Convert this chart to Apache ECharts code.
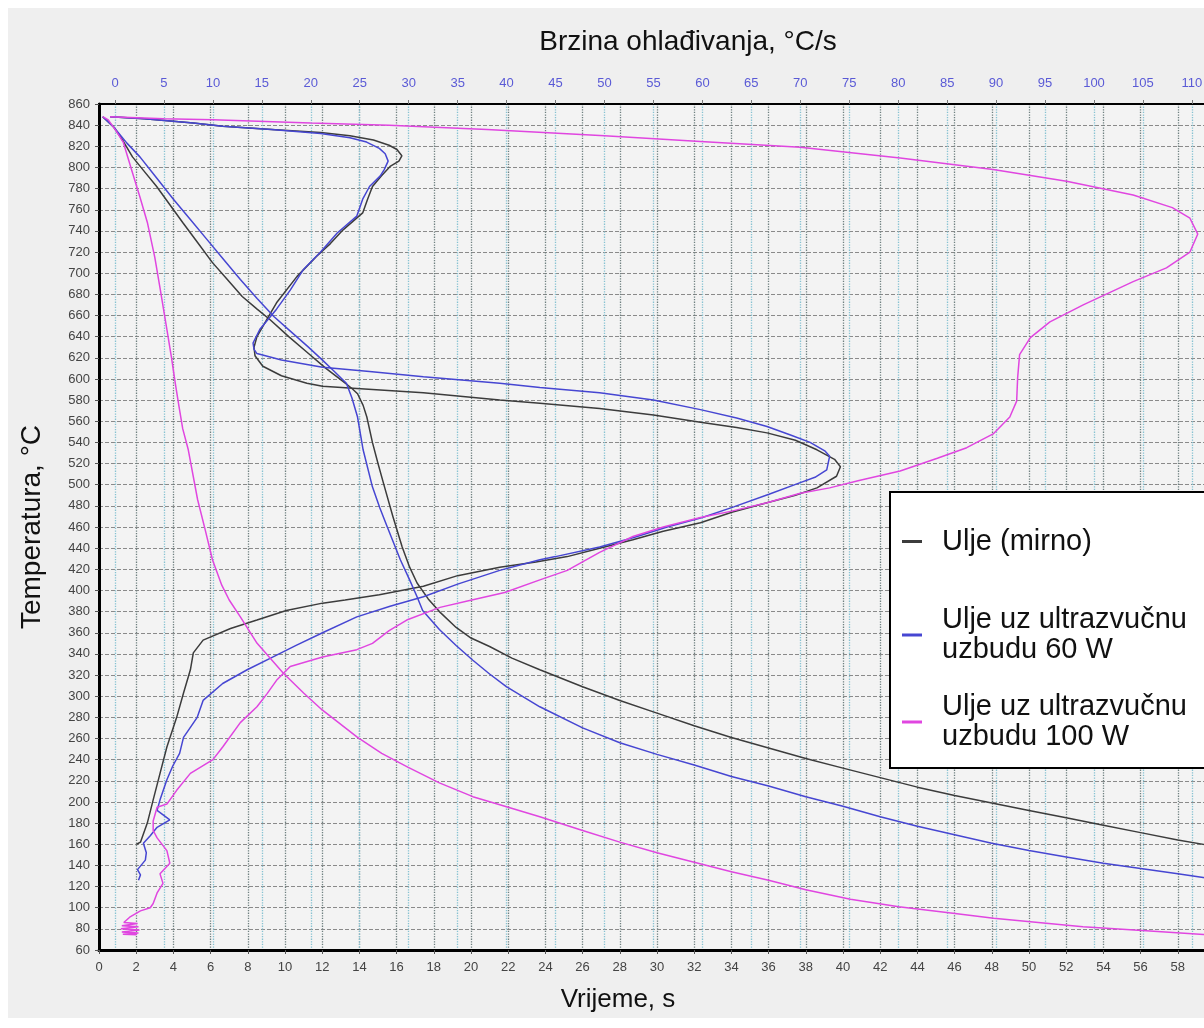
<!DOCTYPE html>
<html>
<head>
<meta charset="utf-8">
<script src="https://cdn.jsdelivr.net/npm/echarts@6/dist/echarts.min.js"></script>
<style>
  html, body { margin: 0; padding: 0; background: #ffffff; overflow: hidden; width: 1204px; height: 1028px; }
  #chart { position: absolute; left: 8px; top: 8px; width: 1230px; height: 1010px; background: #efefef; }
</style>
</head>
<body>
<div id="chart"></div>
<script>
  // nazivi krivulja (legenda)
  const names = ['Ulje (mirno)', 'Ulje uz ultrazvučnu\nuzbudu 60 W', 'Ulje uz ultrazvučnu\nuzbudu 100 W'];

  // krivulje hlađenja: [vrijeme s, temperatura °C]
  const hladenjeMirno = [[0.2,848],[0.8,838],[1.3,825],[1.8,810],[2.4,797],[3.1,782],[3.8,765],[4.5,748],[5.3,729],[6.1,710],[6.9,694],[7.7,678],[8.5,666],[9.2,656],[10.2,640],[11.2,625],[12.2,610],[13.1,598],[13.6,591],[13.9,586],[14.2,575],[14.4,564],[14.7,540],[15.0,520],[15.3,501],[15.8,470],[16.3,441],[16.7,422],[17.1,407],[17.7,392],[18.3,380],[19.2,365],[20.0,355],[21.0,347],[22.2,336],[23.7,325],[26,309],[28,296],[30,284],[32,272],[34,261],[36,251],[38,241],[40,232],[42,223],[44,214],[46,206],[48,199],[50,192],[52,185],[54,178],[56,171],[58,164],[60,158]];
  const hladenje60 = [[0.2,848],[0.8,838],[1.5,823],[2.2,810],[3.1,790],[4.0,770],[4.9,751],[5.8,732],[6.7,713],[7.6,694],[8.5,676],[9.4,659],[10.3,645],[11.2,631],[12.0,618],[12.6,608],[13.3,596],[13.6,582],[13.9,564],[14.2,533],[14.7,498],[15.1,478],[15.5,460],[16.2,429],[16.7,410],[17.1,394],[17.4,381],[18.3,363],[19.2,348],[20.1,334],[21.0,321],[21.9,309],[23.7,290],[26,270],[28,256],[30,245],[32,235],[34,224],[36,215],[38,205],[40,196],[42,186],[44,177],[46,169],[48,161],[50,154],[52,148],[54,142],[56,137],[58,132],[60,127]];
  const hladenje100 = [[0.2,848],[0.5,845],[0.9,835],[1.3,824],[1.8,795],[2.2,772],[2.6,748],[3.0,715],[3.3,684],[3.6,652],[3.9,620],[4.1,596],[4.3,574],[4.5,553],[4.8,533],[5.3,486],[5.7,458],[6.1,429],[6.6,405],[7.0,391],[7.6,375],[8.5,350],[9.9,322],[11.0,303],[12.0,287],[13.9,261],[15.2,246],[16.6,233],[18.3,218],[20.1,205],[22,195],[23.7,186],[26,173],[28,162],[30,152],[32,143],[34,134],[36,126],[38,117],[40.4,108],[43,101],[45.8,95],[48.1,90],[50.5,86],[52.9,82],[56.5,78],[60,74]];

  // brzine hlađenja: [brzina °C/s, temperatura °C]
  const brzinaMirno = [[-0.5,848],[3,846],[8,842],[11,839],[16,836],[21,833],[24,830],[26.4,826],[28,821],[28.8,817],[29.3,811],[29,806],[28.1,801],[27.2,792],[26.3,782],[25.8,770],[25.3,757],[24.3,749],[23.3,741],[22,728],[20.6,716],[18.6,697],[16.5,672],[15.5,656],[14.5,640],[14.2,630],[14.3,622],[15.1,612],[17,603],[19.6,596],[21.2,593],[24.7,591],[31.5,587],[39.3,580],[43.4,577],[49.5,572],[55,566],[59.8,559],[63.5,554],[66.6,549],[69.5,542],[71.7,533],[73.5,524],[74.1,517],[73.7,508],[71.7,497],[69.5,490],[66.6,483],[63,474],[59.8,464],[56,456],[52.9,448],[49.5,440],[46.2,432],[43,427],[39.3,422],[35,414],[31.5,404],[27,396],[23.5,391],[21.2,388],[17.5,381],[14.5,372],[11.8,364],[9.0,353],[8.0,341],[7.7,325],[7.0,303],[6.3,280],[5.3,252],[4.6,227],[3.9,202],[3.3,180],[2.6,162],[2.2,160]];
  const brzina60 = [[-0.5,848],[3,846],[8,842],[11,839],[16,836],[21,832],[24,828],[25.7,824],[27,818],[27.6,813],[27.9,806],[27.5,798],[27.1,792],[26,782],[25.3,770],[24.7,754],[23.7,746],[22.7,738],[21,720],[19.2,703],[17.9,684],[16.5,666],[14.8,647],[14.1,634],[14.2,628],[14.5,624],[17,618],[21.2,611],[26,607],[31.5,602],[39.3,596],[43.4,592],[49.5,587],[55,580],[59.8,571],[63.5,563],[66.6,555],[69,547],[71,540],[72.5,532],[73,527],[72.7,514],[71.5,507],[70,502],[66.8,491],[63.2,479],[60,469],[56.4,460],[53,450],[49.5,441],[45,432],[43.4,429],[39.3,419],[35,406],[31.5,394],[28.1,385],[24.7,375],[21.2,360],[18.5,348],[16.1,337],[13.5,325],[11,312],[9,296],[8.4,280],[7,261],[6.6,246],[5.9,234],[5.3,221],[4.6,202],[4.3,192],[5.6,183],[4.3,176],[3.6,168],[2.9,161],[3.2,152],[3.1,145],[2.3,136],[2.6,131],[2.4,126]];
  const brzina100 = [[-0.5,848],[5,846],[10,845],[20,842],[28,840],[38,836],[50,830],[59.8,824.5],[70,819],[80.2,809],[89.7,798],[97.2,787],[104,774],[108,762],[109.8,752],[110.6,737],[109.8,720],[107.4,705],[104,692],[98.9,670],[95.5,654],[93.5,639],[92.4,623],[92.2,601],[92.1,579],[91.4,564],[89.7,548],[87,535],[84,525],[80.2,513],[76,504],[73,497],[70,492],[66.6,483],[63,475],[59.8,469],[56,460],[52.9,451],[49.5,436],[46.2,419],[43.4,410],[39.8,398],[36,390],[33.2,384],[29.8,372],[28,362],[26.3,350],[24.7,344],[21.2,337],[17.9,328],[16.5,315],[15.5,302],[14.5,290],[12.8,275],[11,252],[10,240],[7.7,227],[6.3,211],[5.3,198],[4.3,195],[3.9,182],[3.9,173],[4.3,166],[5.3,154],[5.6,142],[4.6,132],[4.9,123],[4.3,114],[3.9,104],[3.6,100],[2.6,97],[1.5,91],[0.9,86],[2.3,85],[0.7,83],[2.4,82],[0.6,80],[2.5,79],[0.7,77],[2.4,76],[0.8,75],[2.2,74.5]];

  // oznake gornje osi (brzina)
  const rateTicks = [0,5,10,15,20,25,30,35,40,45,50,55,60,65,70,75,80,85,90,95,100,105,110];

  const colors = ['#3c3c3c', '#4646d2', '#e046e0'];
  const font = 'Liberation Sans, Arial, sans-serif';

  const chart = echarts.init(document.getElementById('chart'));

  const mkSeries = (name, data, axis, color) => ({
    name: name,
    type: 'line',
    xAxisIndex: axis,
    data: data,
    showSymbol: false,
    symbol: 'none',
    color: color,
    lineStyle: { color: color, width: 1.5 },
    silent: true,
  });

  const option = {
    animation: false,
    backgroundColor: '#efefef',
    grid: {
      left: 91,
      right: 23,
      top: 96,
      bottom: 68,
      outerBoundsMode: 'none',
      show: true,
      backgroundColor: '#f3f3f3',
      borderColor: '#000',
      borderWidth: 2,
    },
    legend: {
      left: 882,
      top: 484,
      orient: 'vertical',
      selectedMode: false,
      backgroundColor: '#ffffff',
      borderColor: '#000',
      borderWidth: 2,
      padding: [13, 60, 16, 12],
      itemGap: 27,
      icon: 'rect',
      itemWidth: 20,
      itemHeight: 3,
      textStyle: { fontFamily: font, fontSize: 29, color: '#111', lineHeight: 30, padding: [0, 0, 0, 15] },
      data: [
        { name: names[0], textStyle: { lineHeight: 73 } },
        { name: names[1] },
        { name: names[2] },
      ],
    },
    xAxis: [
      {
        type: 'value',
        position: 'bottom',
        min: 0,
        max: 60,
        interval: 2,
        name: 'Vrijeme, s',
        nameLocation: 'middle',
        nameGap: 37,
        nameTextStyle: { fontFamily: font, fontSize: 26, color: '#111', padding: [0, 78, 0, 0] },
        axisLine: { show: true, lineStyle: { color: '#000', width: 3 } },
        axisTick: { show: true, length: 4, lineStyle: { color: '#555' } },
        axisLabel: { fontFamily: font, fontSize: 13, color: '#444', margin: 11 },
        splitLine: { show: true, lineStyle: { color: '#6f8080', type: 'dotted', width: 1.3 } },
      },
      {
        type: 'value',
        position: 'top',
        min: -1.634,
        max: 112.36,
        name: 'Brzina ohlađivanja, °C/s',
        nameLocation: 'middle',
        nameGap: 48,
        nameTextStyle: { fontFamily: font, fontSize: 28, color: '#111', padding: [0, 0, 0, 62] },
        axisLine: { show: true, lineStyle: { color: '#000', width: 2 } },
        axisTick: { show: true, length: 4, customValues: rateTicks, lineStyle: { color: '#777' } },
        axisLabel: { fontFamily: font, fontSize: 13, color: '#5a5ad6', margin: 14, customValues: rateTicks },
        splitLine: { show: true, lineStyle: { color: '#86c2d2', type: 'dotted', width: 1.3 } },
      },
    ],
    yAxis: {
      type: 'value',
      min: 60,
      max: 860,
      interval: 20,
      name: 'Temperatura, °C',
      nameLocation: 'middle',
      nameGap: 53,
      nameTextStyle: { fontFamily: font, fontSize: 28, color: '#111' },
      axisLine: { show: true, lineStyle: { color: '#000', width: 3 } },
      axisTick: { show: true, length: 4, lineStyle: { color: '#555' } },
      axisLabel: { fontFamily: font, fontSize: 13, color: '#444', margin: 9 },
      splitLine: { show: true, lineStyle: { color: '#8a8a8a', type: 'dashed', width: 1 } },
    },
    series: [
      mkSeries(names[0], hladenjeMirno, 0, colors[0]),
      mkSeries(names[0], brzinaMirno, 1, colors[0]),
      mkSeries(names[1], hladenje60, 0, colors[1]),
      mkSeries(names[1], brzina60, 1, colors[1]),
      mkSeries(names[2], hladenje100, 0, colors[2]),
      mkSeries(names[2], brzina100, 1, colors[2]),
    ],
  };

  chart.setOption(option);
</script>
</body>
</html>
